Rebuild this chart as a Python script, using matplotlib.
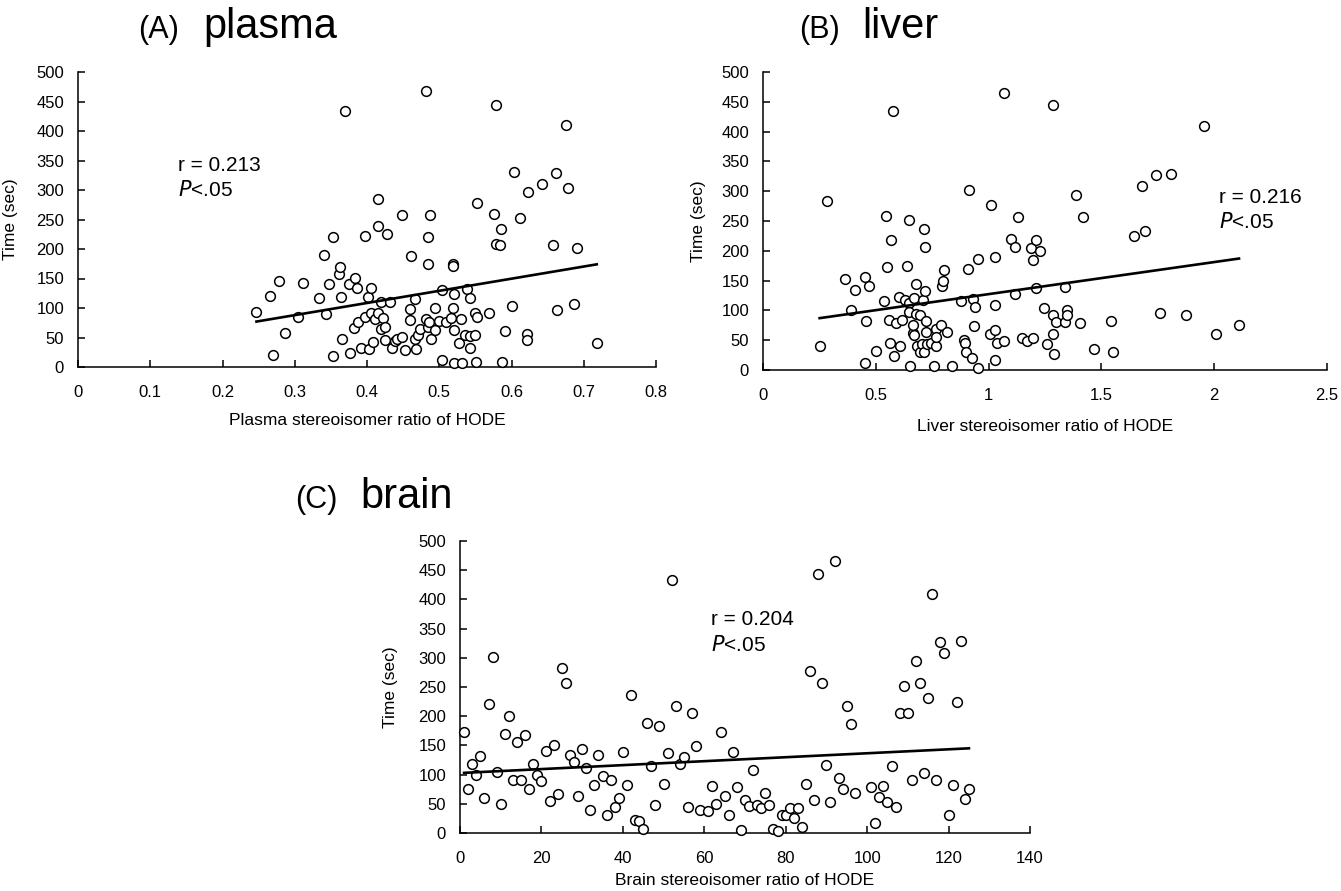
import matplotlib
matplotlib.use('Agg')
from matplotlib import pyplot as plt

plt.rcParams['font.family'] = ['Liberation Sans', 'DejaVu Sans']

# (A) plasma
plasma_x = [0.247, 0.266, 0.270, 0.278, 0.287, 0.305, 0.312, 0.334, 0.340, 0.343,
            0.347, 0.353, 0.353, 0.361, 0.363, 0.364, 0.366, 0.370, 0.375, 0.376,
            0.382, 0.384, 0.386, 0.388, 0.392, 0.397, 0.397, 0.401, 0.403, 0.406,
            0.405, 0.408, 0.411, 0.415, 0.415, 0.415, 0.419, 0.420, 0.422, 0.425,
            0.425, 0.428, 0.432, 0.435, 0.439, 0.442, 0.448, 0.449, 0.453, 0.460,
            0.460, 0.461, 0.466, 0.467, 0.468, 0.471, 0.474, 0.482, 0.482, 0.484,
            0.485, 0.485, 0.487, 0.486, 0.489, 0.494, 0.494, 0.499, 0.504, 0.504,
            0.510, 0.516, 0.519, 0.519, 0.520, 0.519, 0.520, 0.521, 0.527, 0.530,
            0.531, 0.536, 0.538, 0.542, 0.543, 0.543, 0.549, 0.549, 0.551, 0.552,
            0.552, 0.569, 0.576, 0.578, 0.578, 0.584, 0.585, 0.587, 0.591, 0.601,
            0.603, 0.612, 0.623, 0.622, 0.622, 0.642, 0.663, 0.657, 0.662, 0.675,
            0.678, 0.686, 0.690, 0.718]
plasma_y = [93, 120, 21, 145, 58, 85, 143, 117, 190, 90,
            140, 220, 18, 158, 169, 119, 47, 434, 141, 23,
            66, 151, 134, 76, 33, 222, 84, 119, 31, 134,
            92, 42, 82, 92, 284, 239, 110, 64, 83, 68,
            45, 226, 110, 33, 44, 48, 51, 258, 28, 98,
            79, 188, 47, 116, 31, 54, 65, 467, 81, 220,
            175, 68, 258, 76, 48, 100, 62, 78, 131, 12,
            76, 83, 175, 172, 123, 100, 62, 6, 40, 82,
            6, 54, 133, 32, 117, 52, 92, 54, 8, 85,
            278, 91, 259, 444, 208, 207, 234, 8, 61, 104,
            330, 252, 296, 56, 45, 310, 96, 207, 328, 410,
            303, 106, 202, 40]

# (B) liver
liver_x = [0.251, 0.282, 0.363, 0.391, 0.408, 0.452, 0.452, 0.457, 0.471, 0.499,
           0.535, 0.544, 0.548, 0.560, 0.563, 0.567, 0.578, 0.580, 0.590, 0.601,
           0.609, 0.618, 0.629, 0.637, 0.645, 0.646, 0.648, 0.652, 0.663, 0.667,
           0.669, 0.669, 0.679, 0.680, 0.684, 0.696, 0.696, 0.703, 0.711, 0.713,
           0.713, 0.716, 0.720, 0.722, 0.724, 0.728, 0.743, 0.760, 0.765, 0.769,
           0.769, 0.788, 0.794, 0.798, 0.802, 0.815, 0.837, 0.879, 0.892, 0.896,
           0.898, 0.907, 0.913, 0.928, 0.932, 0.934, 0.939, 0.953, 0.955, 1.009,
           1.008, 1.028, 1.028, 1.030, 1.030, 1.036, 1.068, 1.070, 1.098, 1.117,
           1.119, 1.129, 1.147, 1.170, 1.187, 1.197, 1.198, 1.208, 1.210, 1.229,
           1.244, 1.259, 1.287, 1.287, 1.287, 1.289, 1.297, 1.338, 1.338, 1.348,
           1.348, 1.389, 1.406, 1.418, 1.469, 1.544, 1.552, 1.646, 1.679, 1.692,
           1.743, 1.758, 1.807, 1.873, 1.955, 2.009, 2.110]
liver_y = [41, 283, 152, 100, 134, 156, 12, 83, 141, 32,
           116, 258, 173, 84, 46, 218, 434, 23, 79, 122,
           40, 84, 118, 174, 112, 251, 97, 6, 62, 76,
           120, 58, 144, 94, 41, 92, 30, 44, 118, 30,
           237, 206, 133, 82, 63, 44, 46, 7, 40, 69,
           56, 76, 141, 150, 168, 63, 7, 116, 51, 46,
           30, 170, 302, 20, 119, 74, 106, 187, 4, 277,
           60, 189, 109, 67, 17, 46, 465, 49, 220, 206,
           128, 256, 54, 49, 205, 53, 184, 218, 138, 199,
           104, 44, 444, 92, 61, 27, 80, 139, 80, 100,
           92, 294, 79, 257, 36, 82, 31, 225, 309, 234,
           327, 96, 329, 92, 410, 60, 76]

# (C) brain
brain_x = [1, 2, 3, 4, 5, 6, 7, 8, 9, 10, 11, 12, 13, 14, 15, 16, 17, 18, 19, 20,
           21, 22, 23, 24, 25, 26, 27, 28, 29, 30, 31, 32, 33, 34, 35, 36, 37, 38, 39, 40,
           41, 42, 43, 44, 45, 46, 47, 48, 49, 50, 51, 52, 53, 54, 55, 56, 57, 58, 59, 61,
           62, 63, 64, 65, 66, 67, 68, 69, 70, 71, 72, 73, 74, 75, 76, 77, 78, 79, 80, 81,
           82, 83, 84, 85, 86, 87, 88, 89, 90, 91, 92, 93, 94, 95, 96, 97, 101, 102, 103, 104,
           105, 106, 107, 108, 109, 110, 111, 112, 113, 114, 115, 116, 117, 118, 119, 120, 121, 122, 123, 124,
           125]
brain_y = [173, 75, 118, 99, 132, 60, 221, 302, 105, 50, 170, 201, 91, 156, 91, 168, 76, 118, 99, 89,
           141, 54, 151, 66, 283, 257, 133, 121, 63, 144, 111, 40, 83, 133, 98, 31, 91, 44, 60, 139,
           83, 237, 23, 21, 6, 189, 115, 48, 184, 84, 137, 433, 217, 118, 130, 45, 205, 149, 39, 38,
           80, 49, 173, 63, 30, 139, 79, 5, 57, 47, 108, 48, 42, 69, 48, 7, 4, 30, 30, 42,
           26, 43, 11, 84, 277, 56, 443, 257, 116, 53, 465, 95, 75, 217, 186, 68, 78, 17, 61, 80,
           53, 115, 44, 205, 251, 206, 90, 295, 257, 103, 232, 409, 90, 327, 308, 31, 82, 224, 328, 59,
           76]

# trend lines (end points)
plasma_fit_x, plasma_fit_y = [0.247, 0.718], [77, 174]
liver_fit_x, liver_fit_y = [0.251, 2.110], [87, 187]
brain_fit_x, brain_fit_y = [1, 125], [103, 145]

W, H = 1341, 891
fig = plt.figure(figsize=(W / 100, H / 100), dpi=100)


def px_axes(left, right, top, bottom):
    return fig.add_axes([left / W, 1 - bottom / H, (right - left) / W, (bottom - top) / H])


def panel(ax, x, y, fx, fy, xmax, xstep, xlabel, r_txt, tx, ty, tdy):
    ax.plot(x, y, 'o', ms=7, mfc='white', mec='black', mew=1.1, clip_on=False, zorder=3)
    ax.plot(fx, fy, color='black', lw=1.9, zorder=4)
    ax.set_xlim(0, xmax)
    ax.set_ylim(0, 500)
    ax.set_xticks([i * xstep for i in range(int(round(xmax / xstep)) + 1)])
    ax.set_yticks(range(0, 501, 50))
    for s in ['top', 'right']:
        ax.spines[s].set_visible(False)
    for s in ['left', 'bottom']:
        ax.spines[s].set_linewidth(1.1)
    ax.tick_params(direction='in', length=5, width=1.1, labelsize=12)
    ax.tick_params(axis='x', pad=13)
    ax.tick_params(axis='y', pad=10)
    ax.set_xlabel(xlabel, fontsize=12.5)
    ax.set_ylabel('Time (sec)', fontsize=12.5)
    ax.text(tx, ty, r_txt, fontsize=15, va='center')
    ax.text(tx, ty - tdy, r'$\it{P}$<.05', fontsize=15, va='center')


axA = px_axes(78, 656, 72, 367)
panel(axA, plasma_x, plasma_y, plasma_fit_x, plasma_fit_y, 0.8, 0.1,
      'Plasma stereoisomer ratio of HODE', 'r = 0.213', 0.138, 342, 42)
axA.set_xticklabels(['0'] + ['%.1f' % (i / 10) for i in range(1, 9)])
axA.xaxis.set_label_coords(0.5, -46 / 295)
axA.yaxis.set_label_coords(-60 / 578, 0.5)

axB = px_axes(763, 1327, 72, 370)
panel(axB, liver_x, liver_y, liver_fit_x, liver_fit_y, 2.5, 0.5,
      'Liver stereoisomer ratio of HODE', 'r = 0.216', 2.02, 290, 42)
axB.set_xticklabels(['0', '0.5', '1', '1.5', '2', '2.5'])
axB.xaxis.set_label_coords(0.5, -49 / 298)
axB.yaxis.set_label_coords(-57 / 564, 0.5)

axC = px_axes(460, 1030, 541, 833)
panel(axC, brain_x, brain_y, brain_fit_x, brain_fit_y, 140, 20,
      'Brain stereoisomer ratio of HODE', 'r = 0.204', 61.7, 365, 43)
axC.xaxis.set_label_coords(0.5, -40 / 292)
axC.yaxis.set_label_coords(-62 / 570, 0.5)

# panel titles
for lab, name, x1, x2, base in [('(A)', 'plasma', 138, 203, 38),
                                ('(B)', 'liver', 799, 862, 38),
                                ('(C)', 'brain', 295, 360, 508)]:
    fig.text(x1 / W, 1 - base / H, lab, fontsize=22, va='baseline')
    fig.text(x2 / W, 1 - base / H, name, fontsize=30, va='baseline')

plt.savefig('out.png', dpi=100)
plt.close()
